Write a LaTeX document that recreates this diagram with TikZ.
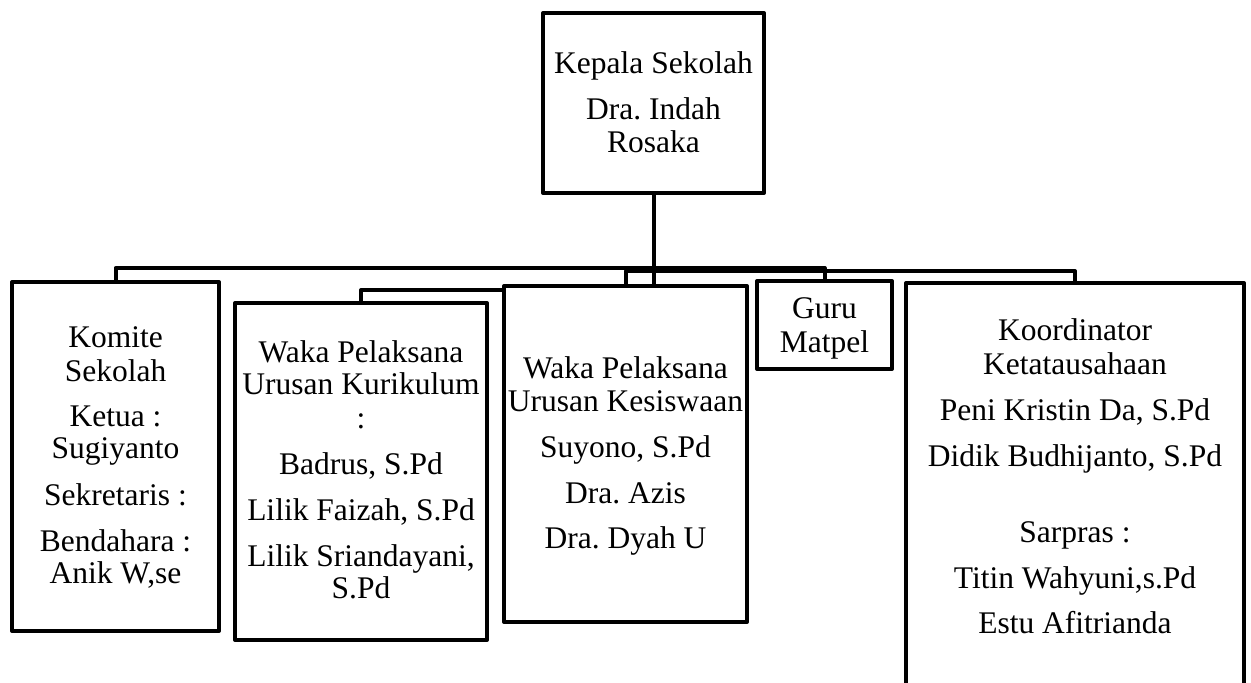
\documentclass[tikz,border=0pt]{standalone}
\usepackage{fontspec}
\setmainfont{Liberation Serif}
\begin{document}
\frenchspacing
\begin{tikzpicture}[x=1pt,y=-1pt,
  box/.style={draw=black,line width=4pt,line join=round,inner sep=0pt,fill=white},
  conn/.style={draw=black,line width=4pt,line join=round},
  txt/.style={inner sep=0pt,anchor=base,font=\fontsize{31.5}{33}\selectfont\frenchspacing}]
\useasboundingbox (0,0) rectangle (1251,683);
\clip (0,0) rectangle (1251,683);
\fill[white] (0,0) rectangle (1251,683);
% boxes
\node[box,minimum width=221pt,minimum height=180pt] (top) at (653.5,103) {};
\node[box,minimum width=207pt,minimum height=349pt] (komite) at (115.5,456.5) {};
\node[box,minimum width=252pt,minimum height=337pt] (kuri) at (361,471.5) {};
\node[box,minimum width=243pt,minimum height=336pt] (kesis) at (625.5,454) {};
\node[box,minimum width=135pt,minimum height=88pt] (guru) at (824.5,325) {};
\node[box,minimum width=338pt,minimum height=437pt] (koord) at (1075,501.5) {};
% connector coordinates
\coordinate (h1) at (116,268);
\coordinate (h2) at (626,271);
\coordinate (kk) at (361,290);
% connectors
\draw[conn] (top.south) -- (kesis.north -| top.south);
\draw[conn] (komite.north) -- (komite.north |- h1) -- (guru.north |- h1) -- (guru.north);
\draw[conn] (kesis.north -| h2) -- (h2) -- (koord.north |- h2) -- (koord.north);
\draw[conn] (kuri.north) -- (kuri.north |- kk) -- (kesis.west |- kk);
% texts
\foreach \t/\y [count=\i] in {Kepala Sekolah/73, Dra. Indah/119, Rosaka/152}
  \node[txt] (ttop-\i) at (653.5,\y) {\t};
\foreach \t/\y [count=\i] in {Komite/347, Sekolah/381, Ketua :/426, Sugiyanto/458, Sekretaris :/505, Bendahara :/551, {Anik W,se}/583}
  \node[txt] (tkom-\i) at (115.5,\y) {\t};
\foreach \t/\y [count=\i] in {Waka Pelaksana/362, Urusan Kurikulum/394, :/428, {Badrus, S.Pd}/474, {Lilik Faizah, S.Pd}/520, {Lilik Sriandayani,}/566, S.Pd/598}
  \node[txt] (tkur-\i) at (361,\y) {\t};
\foreach \t/\y [count=\i] in {Waka Pelaksana/378, Urusan Kesiswaan/411, {Suyono, S.Pd}/457, Dra. Azis/503, Dra. Dyah U/548}
  \node[txt] (tkes-\i) at (625.5,\y) {\t};
\foreach \t/\y [count=\i] in {Guru/318, Matpel/352}
  \node[txt] (tgur-\i) at (824.5,\y) {\t};
\foreach \t/\y [count=\i] in {Koordinator/340, Ketatausahaan/374, {Peni Kristin Da, S.Pd}/420, {Didik Budhijanto, S.Pd}/466, Sarpras :/542, {Titin Wahyuni,s.Pd}/588, Estu Afitrianda/633}
  \node[txt] (tkoo-\i) at (1075,\y) {\t};
\end{tikzpicture}
\end{document}
